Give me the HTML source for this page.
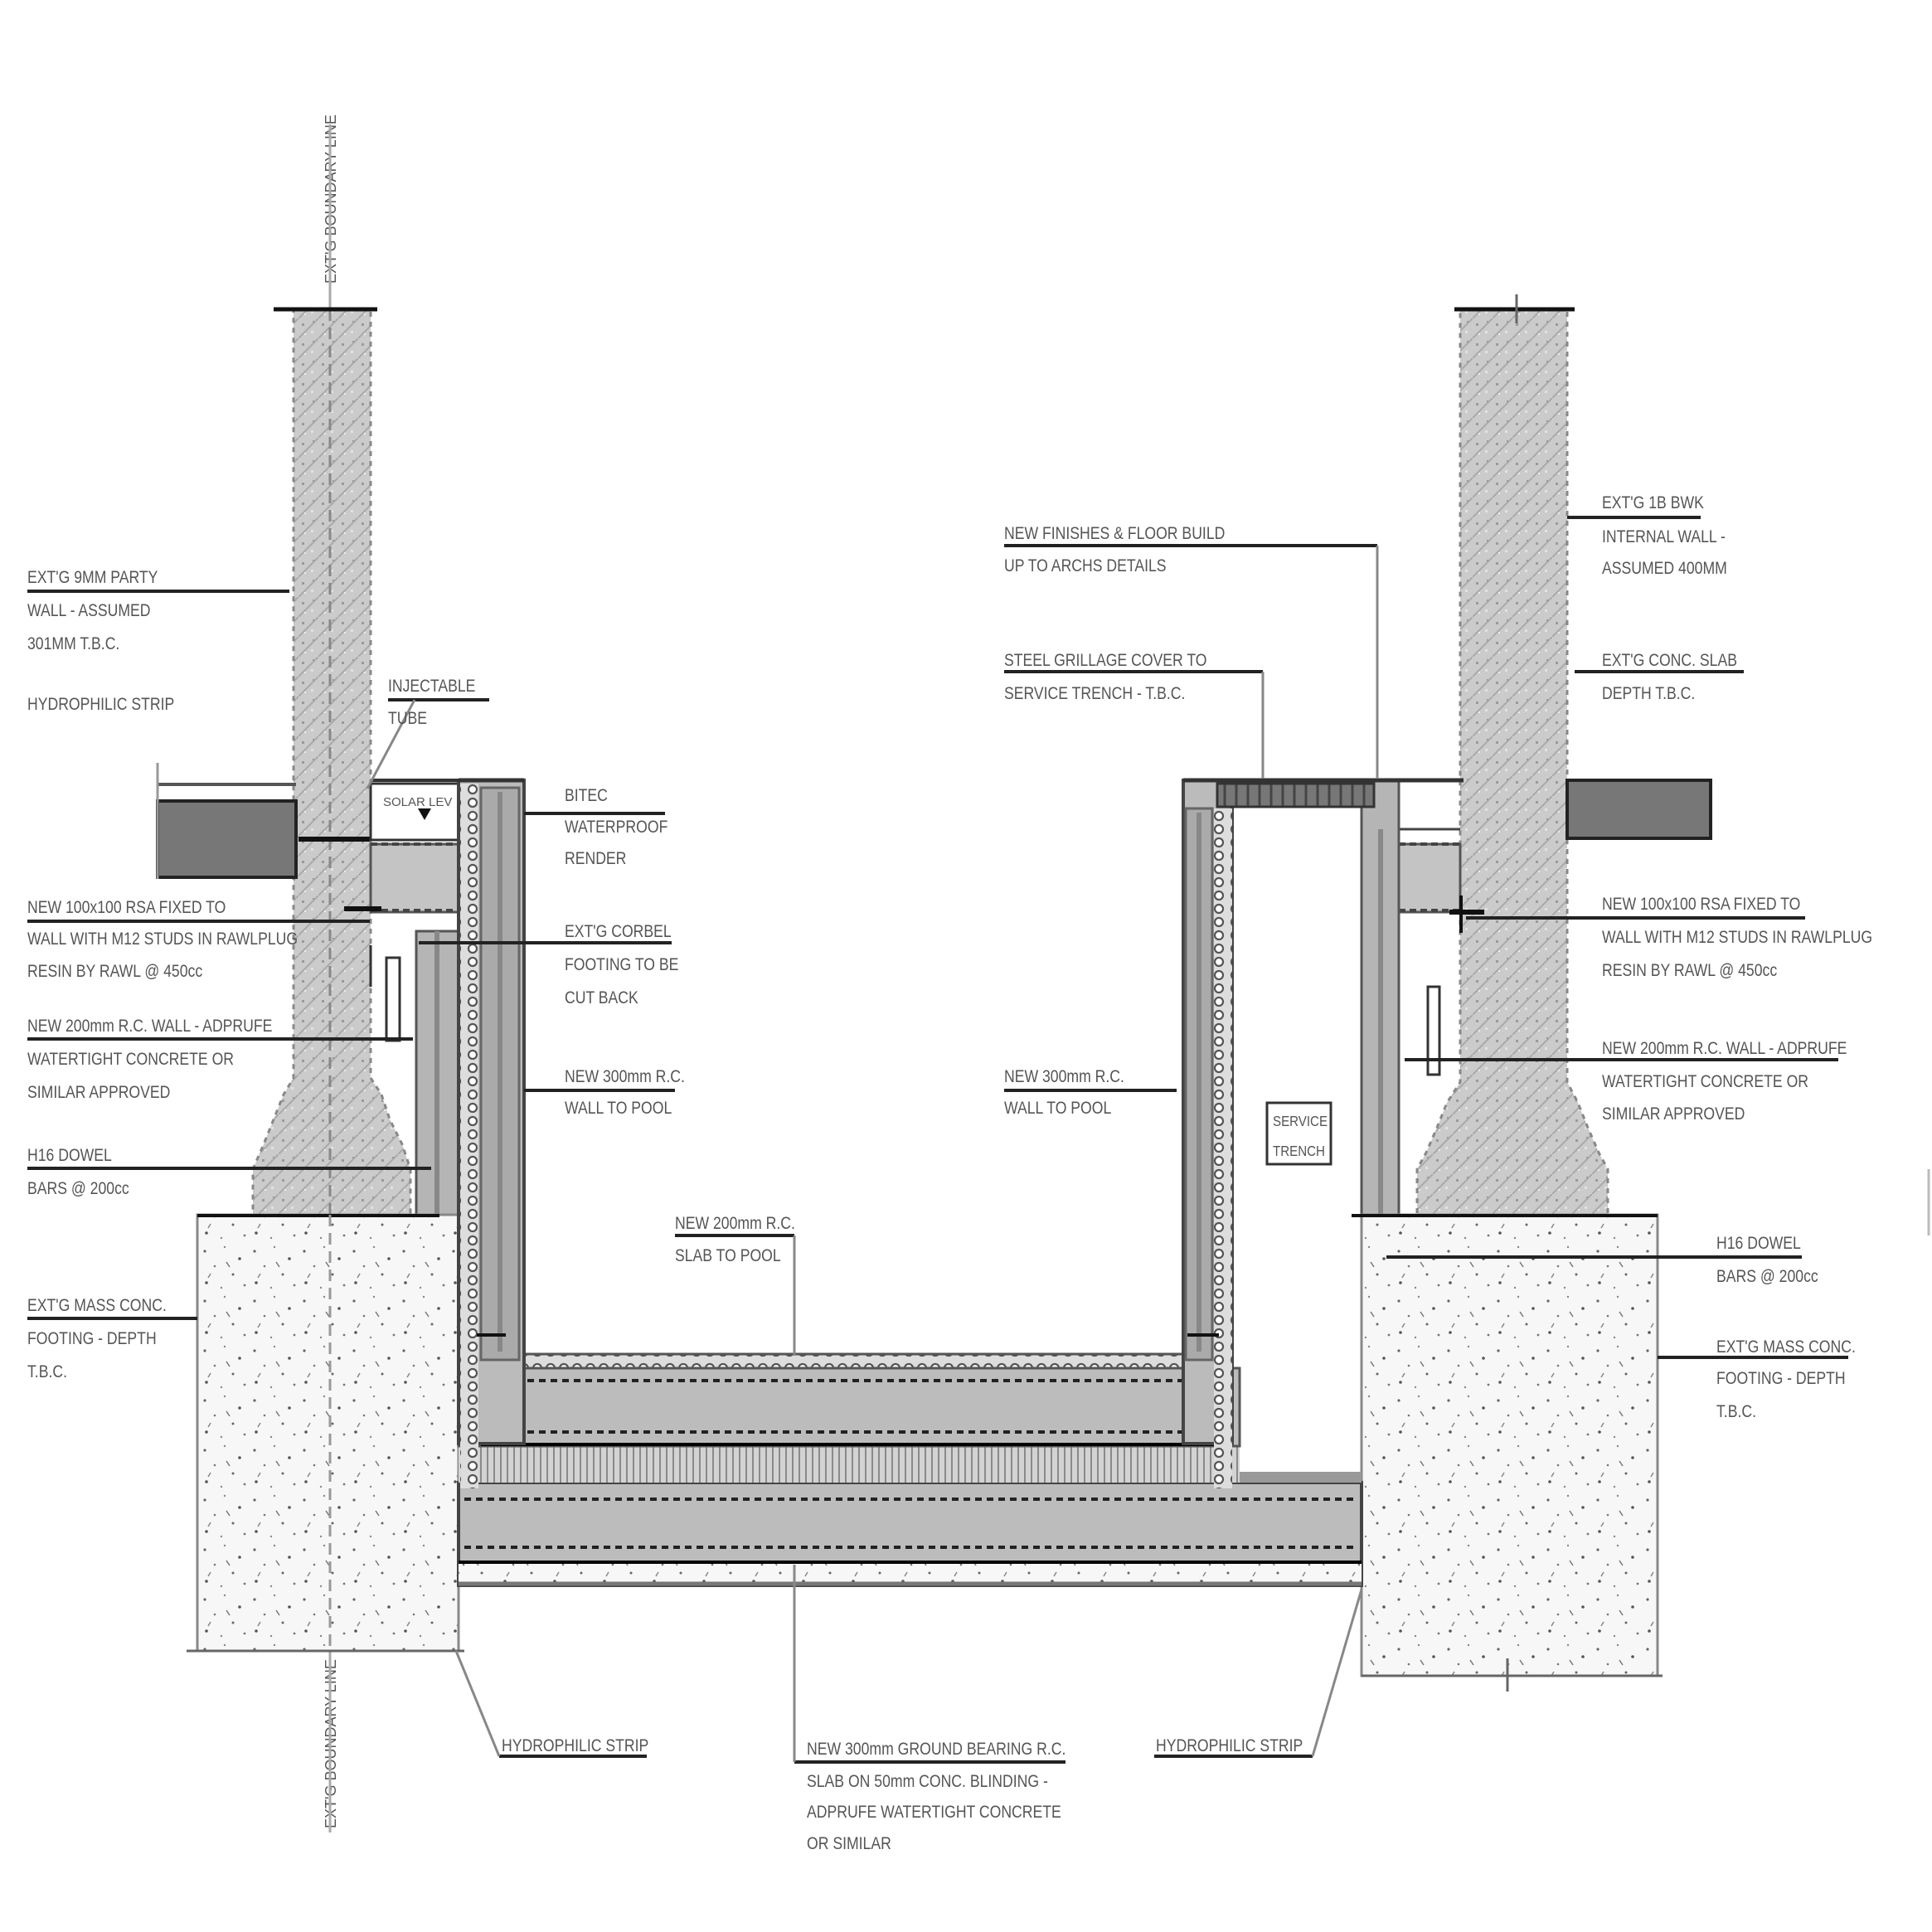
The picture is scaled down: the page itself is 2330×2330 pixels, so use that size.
<!DOCTYPE html>
<html><head><meta charset="utf-8"><style>
html,body{margin:0;padding:0;background:#fff}
svg{display:block}
text{font-family:"Liberation Sans Narrow","Liberation Sans",sans-serif;font-size:21px;fill:#555}
text.n{transform-box:fill-box;transform-origin:left center;transform:scaleX(0.84)}
</style></head><body>
<svg width="2330" height="2330" viewBox="0 0 2330 2330" xmlns="http://www.w3.org/2000/svg">
<defs>
<pattern id="brick" width="24" height="24" patternUnits="userSpaceOnUse">
<rect width="24" height="24" fill="#cbcbcb"/>
<path d="M0 24 L24 0" stroke="#a9a9a9" stroke-width="2"/>
<rect x="4" y="6" width="3" height="3" fill="#9a9a9a"/><rect x="15" y="15" width="3" height="3" fill="#e2e2e2"/><rect x="17" y="3" width="2" height="2" fill="#999"/><rect x="7" y="18" width="2" height="2" fill="#ececec"/>
</pattern>
<pattern id="conc" width="60" height="60" patternUnits="userSpaceOnUse">
<rect width="60" height="60" fill="#f7f7f7"/>
<circle cx="7" cy="9" r="1.6" fill="#666"/><circle cx="31" cy="4" r="1.2" fill="#888"/><circle cx="49" cy="18" r="1.8" fill="#555"/>
<circle cx="19" cy="27" r="1.3" fill="#777"/><circle cx="41" cy="37" r="1.5" fill="#666"/><circle cx="9" cy="47" r="1.8" fill="#555"/>
<circle cx="27" cy="53" r="1.2" fill="#888"/><circle cx="55" cy="50" r="1.4" fill="#777"/><path d="M33 22 l4 6" stroke="#777" stroke-width="1.5"/><path d="M14 36 l-3 5" stroke="#888" stroke-width="1.5"/>
</pattern>
<pattern id="circ" width="20" height="16" patternUnits="userSpaceOnUse">
<rect width="20" height="16" fill="#ddd"/>
<circle cx="10" cy="8" r="5" fill="#fff" stroke="#555" stroke-width="2.2"/>
</pattern>
<pattern id="circH" width="16" height="20" patternUnits="userSpaceOnUse">
<rect width="16" height="20" fill="#ddd"/>
<circle cx="8" cy="10" r="5" fill="#fff" stroke="#555" stroke-width="2.2"/>
</pattern>
<pattern id="vh" width="8" height="20" patternUnits="userSpaceOnUse">
<rect width="8" height="20" fill="#d3d3d3"/><path d="M4 0 V20" stroke="#8a8a8a" stroke-width="2"/>
</pattern>
<pattern id="grille" width="14" height="30" patternUnits="userSpaceOnUse">
<rect width="14" height="30" fill="#777"/><path d="M7 0 V30" stroke="#444" stroke-width="3"/>
</pattern>
</defs>

<!-- vertical boundary texts -->
<text transform="translate(405,342) rotate(-90)" style="font-size:18px">EXT'G BOUNDARY LINE</text>
<line x1="398" y1="150" x2="398" y2="373" stroke="#aaa" stroke-width="3"/>
<text transform="translate(405,2205) rotate(-90)" style="font-size:18px">EXT'G BOUNDARY LINE</text>
<line x1="398" y1="1990" x2="398" y2="2210" stroke="#aaa" stroke-width="3"/>

<!-- LEFT WALL -->
<path d="M354 373 H447 V1300 L460 1320 L470 1350 L485 1380 L495 1410 V1465 H305 V1410 L318 1380 L330 1350 L342 1320 L354 1300 Z" fill="url(#brick)" stroke="#888" stroke-width="3" stroke-dasharray="6 6"/>
<line x1="398" y1="373" x2="398" y2="1465" stroke="#888" stroke-width="3" stroke-dasharray="14 8"/>
<line x1="330" y1="373" x2="455" y2="373" stroke="#111" stroke-width="5"/>
<rect x="190" y="966" width="167" height="92" fill="#777" stroke="#222" stroke-width="4"/>
<line x1="190" y1="946" x2="357" y2="946" stroke="#555" stroke-width="4"/>
<line x1="190" y1="920" x2="190" y2="1060" stroke="#999" stroke-width="3"/>
<line x1="360" y1="1012" x2="446" y2="1012" stroke="#111" stroke-width="6"/>
<rect x="447" y="1018" width="106" height="82" fill="#c4c4c4" stroke="#555" stroke-width="3"/>
<line x1="447" y1="1018" x2="553" y2="1018" stroke="#444" stroke-width="4" stroke-dasharray="8 5"/>
<line x1="447" y1="1098" x2="553" y2="1098" stroke="#444" stroke-width="4" stroke-dasharray="8 5"/>
<line x1="447" y1="1140" x2="447" y2="1190" stroke="#333" stroke-width="3"/>
<line x1="415" y1="1096" x2="460" y2="1096" stroke="#111" stroke-width="6"/>
<rect x="447" y="945" width="106" height="68" fill="#fff" stroke="#333" stroke-width="3"/>
<path d="M512 989 l-8 -14 h16 z" fill="#111"/>
<text x="462" y="972" style="font-size:15px">SOLAR LEV</text>
<rect x="502" y="1123" width="51" height="342" fill="#b5b5b5" stroke="#555" stroke-width="3"/>
<line x1="527" y1="1123" x2="527" y2="1465" stroke="#888" stroke-width="6"/>
<rect x="466" y="1155" width="16" height="100" fill="#fff" stroke="#333" stroke-width="3"/>
<rect x="238" y="1465" width="315" height="526" fill="url(#conc)" stroke="#888" stroke-width="3"/>
<line x1="238" y1="1466" x2="530" y2="1466" stroke="#111" stroke-width="4"/>
<line x1="398" y1="1465" x2="398" y2="1991" stroke="#999" stroke-width="3" stroke-dasharray="14 8"/>
<line x1="225" y1="1991" x2="560" y2="1991" stroke="#666" stroke-width="3"/>

<!-- RIGHT WALL -->
<path d="M1761 373 H1890 V1305 L1903 1330 L1915 1360 L1928 1390 L1939 1410 V1465 H1709 V1410 L1720 1390 L1733 1360 L1745 1330 L1761 1305 Z" fill="url(#brick)" stroke="#888" stroke-width="3" stroke-dasharray="6 6"/>
<line x1="1754" y1="373" x2="1899" y2="373" stroke="#111" stroke-width="5"/>
<line x1="1829" y1="355" x2="1829" y2="390" stroke="#666" stroke-width="3"/>
<rect x="1890" y="941" width="173" height="70" fill="#777" stroke="#222" stroke-width="4"/>
<rect x="1687" y="1018" width="74" height="82" fill="#c4c4c4" stroke="#555" stroke-width="3"/>
<line x1="1687" y1="1018" x2="1761" y2="1018" stroke="#444" stroke-width="4" stroke-dasharray="8 5"/>
<line x1="1687" y1="1098" x2="1761" y2="1098" stroke="#444" stroke-width="4" stroke-dasharray="8 5"/>
<line x1="1687" y1="1000" x2="1761" y2="1000" stroke="#444" stroke-width="3"/>
<line x1="1748" y1="1100" x2="1790" y2="1100" stroke="#111" stroke-width="6"/>
<line x1="1762" y1="1080" x2="1762" y2="1125" stroke="#111" stroke-width="4"/>
<rect x="1722" y="1190" width="14" height="106" fill="#fff" stroke="#333" stroke-width="3"/>
<rect x="1642" y="941" width="45" height="524" fill="#b5b5b5" stroke="#555" stroke-width="3"/>
<line x1="1665" y1="1000" x2="1665" y2="1465" stroke="#888" stroke-width="6"/>
<rect x="1642" y="1465" width="357" height="556" fill="url(#conc)" stroke="#888" stroke-width="3"/>
<line x1="1630" y1="1466" x2="1999" y2="1466" stroke="#111" stroke-width="4"/>
<line x1="1642" y1="2021" x2="2005" y2="2021" stroke="#666" stroke-width="3"/>
<line x1="1818" y1="2000" x2="1818" y2="2040" stroke="#666" stroke-width="3"/>

<!-- POOL -->
<rect x="553" y="1788" width="1089" height="124" fill="#bcbcbc" stroke="#444" stroke-width="4"/>
<line x1="560" y1="1808" x2="1636" y2="1808" stroke="#222" stroke-width="4" stroke-dasharray="8 6"/>
<line x1="560" y1="1866" x2="1636" y2="1866" stroke="#222" stroke-width="4" stroke-dasharray="8 6"/>
<line x1="553" y1="1884" x2="1642" y2="1884" stroke="#000" stroke-width="4"/>
<rect x="553" y="1886" width="1089" height="24" fill="url(#conc)"/>
<line x1="553" y1="1910" x2="1642" y2="1910" stroke="#777" stroke-width="5"/>
<rect x="1495" y="1775" width="147" height="13" fill="#999"/>
<rect x="553" y="1744" width="942" height="44" fill="url(#vh)"/>
<rect x="553" y="1650" width="942" height="94" fill="#bcbcbc" stroke="#555" stroke-width="3"/>
<line x1="580" y1="1665" x2="1470" y2="1665" stroke="#222" stroke-width="4" stroke-dasharray="8 6"/>
<line x1="580" y1="1727" x2="1470" y2="1727" stroke="#222" stroke-width="4" stroke-dasharray="8 6"/>
<line x1="580" y1="1742" x2="1470" y2="1742" stroke="#000" stroke-width="4"/>
<rect x="632" y="1633" width="795" height="17" fill="url(#circH)" stroke="#555" stroke-width="3"/>
<rect x="553" y="941" width="79" height="800" fill="#bbb" stroke="#444" stroke-width="4"/>
<rect x="555" y="945" width="22" height="850" fill="url(#circ)"/>
<rect x="580" y="950" width="46" height="690" fill="#aaa" stroke="#666" stroke-width="3"/>
<line x1="603" y1="955" x2="603" y2="1630" stroke="#888" stroke-width="6"/>
<line x1="575" y1="1610" x2="610" y2="1610" stroke="#111" stroke-width="4"/>
<rect x="1427" y="941" width="59" height="800" fill="#bbb" stroke="#444" stroke-width="4"/>
<rect x="1464" y="975" width="22" height="820" fill="url(#circ)"/>
<rect x="1430" y="975" width="32" height="665" fill="#aaa" stroke="#666" stroke-width="3"/>
<line x1="1446" y1="980" x2="1446" y2="1630" stroke="#888" stroke-width="6"/>
<line x1="1432" y1="1610" x2="1470" y2="1610" stroke="#111" stroke-width="4"/>
<line x1="1427" y1="941" x2="1765" y2="941" stroke="#333" stroke-width="5"/>
<rect x="1468" y="945" width="189" height="28" fill="url(#grille)" stroke="#333" stroke-width="3"/>
<line x1="553" y1="941" x2="632" y2="941" stroke="#333" stroke-width="5"/>
<line x1="447" y1="941" x2="553" y2="941" stroke="#333" stroke-width="4"/>
<rect x="1528" y="1330" width="77" height="74" fill="#fff" stroke="#333" stroke-width="3"/>
<text class="n" x="1535" y="1358" style="font-size:18px">SERVICE</text>
<text class="n" x="1535" y="1394" style="font-size:18px">TRENCH</text>

<!-- LEADERS -->
<g stroke="#222" stroke-width="4" fill="none">
<path d="M33 713 H349"/>
<path d="M468 844 H590"/>
<path d="M632 981 H802"/>
<path d="M33 1111 H446"/>
<path d="M505 1137 H810"/>
<path d="M33 1253 H498"/>
<path d="M632 1315 H814"/>
<path d="M33 1409 H520"/>
<path d="M33 1590 H238"/>
<path d="M814 1490 H958"/>
<path d="M602 2118 H780"/>
<path d="M958 2125 H1285"/>
<path d="M1392 2118 H1583"/>
<path d="M1211 658 H1661"/>
<path d="M1211 810 H1523"/>
<path d="M1211 1315 H1419"/>
<path d="M1890 624 H2051"/>
<path d="M1899 810 H2103"/>
<path d="M1768 1107 H2177"/>
<path d="M1694 1278 H2217"/>
<path d="M1672 1516 H2173"/>
<path d="M1999 1637 H2229"/>
</g>
<g stroke="#888" stroke-width="3" fill="none">
<path d="M500 844 L443 951"/>
<path d="M958 1490 V1635"/>
<path d="M550 1991 L602 2118"/>
<path d="M958 1887 V2125"/>
<path d="M1642 1917 L1583 2118"/>
<path d="M1661 658 V939"/>
<path d="M1523 810 V939"/>
</g>

<!-- LABELS -->
<text class="n" x="33" y="703">EXT'G 9MM PARTY</text>
<text class="n" x="33" y="743">WALL - ASSUMED</text>
<text class="n" x="33" y="783">301MM T.B.C.</text>
<text class="n" x="33" y="856">HYDROPHILIC STRIP</text>
<text class="n" x="468" y="834">INJECTABLE</text>
<text class="n" x="468" y="873">TUBE</text>
<text class="n" x="681" y="966">BITEC</text>
<text class="n" x="681" y="1004">WATERPROOF</text>
<text class="n" x="681" y="1042">RENDER</text>
<text class="n" x="33" y="1101">NEW 100x100 RSA FIXED TO</text>
<text class="n" x="33" y="1139">WALL WITH M12 STUDS IN RAWLPLUG</text>
<text class="n" x="33" y="1178">RESIN BY RAWL @ 450cc</text>
<text class="n" x="681" y="1130">EXT'G CORBEL</text>
<text class="n" x="681" y="1170">FOOTING TO BE</text>
<text class="n" x="681" y="1210">CUT BACK</text>
<text class="n" x="33" y="1244">NEW 200mm R.C. WALL - ADPRUFE</text>
<text class="n" x="33" y="1284">WATERTIGHT CONCRETE OR</text>
<text class="n" x="33" y="1324">SIMILAR APPROVED</text>
<text class="n" x="681" y="1305">NEW 300mm R.C.</text>
<text class="n" x="681" y="1343">WALL TO POOL</text>
<text class="n" x="33" y="1400">H16 DOWEL</text>
<text class="n" x="33" y="1440">BARS @ 200cc</text>
<text class="n" x="33" y="1581">EXT'G MASS CONC.</text>
<text class="n" x="33" y="1621">FOOTING - DEPTH</text>
<text class="n" x="33" y="1661">T.B.C.</text>
<text class="n" x="814" y="1482">NEW 200mm R.C.</text>
<text class="n" x="814" y="1521">SLAB TO POOL</text>
<text class="n" x="605" y="2112">HYDROPHILIC STRIP</text>
<text class="n" x="973" y="2116">NEW 300mm GROUND BEARING R.C.</text>
<text class="n" x="973" y="2155">SLAB ON 50mm CONC. BLINDING -</text>
<text class="n" x="973" y="2192">ADPRUFE WATERTIGHT CONCRETE</text>
<text class="n" x="973" y="2230">OR SIMILAR</text>
<text class="n" x="1394" y="2112">HYDROPHILIC STRIP</text>
<text class="n" x="1211" y="650">NEW FINISHES &amp; FLOOR BUILD</text>
<text class="n" x="1211" y="689">UP TO ARCHS DETAILS</text>
<text class="n" x="1211" y="803">STEEL GRILLAGE COVER TO</text>
<text class="n" x="1211" y="843">SERVICE TRENCH - T.B.C.</text>
<text class="n" x="1211" y="1305">NEW 300mm R.C.</text>
<text class="n" x="1211" y="1343">WALL TO POOL</text>
<text class="n" x="1932" y="613">EXT'G 1B BWK</text>
<text class="n" x="1932" y="654">INTERNAL WALL -</text>
<text class="n" x="1932" y="692">ASSUMED 400MM</text>
<text class="n" x="1932" y="803">EXT'G CONC. SLAB</text>
<text class="n" x="1932" y="843">DEPTH T.B.C.</text>
<text class="n" x="1932" y="1097">NEW 100x100 RSA FIXED TO</text>
<text class="n" x="1932" y="1137">WALL WITH M12 STUDS IN RAWLPLUG</text>
<text class="n" x="1932" y="1177">RESIN BY RAWL @ 450cc</text>
<text class="n" x="1932" y="1271">NEW 200mm R.C. WALL - ADPRUFE</text>
<text class="n" x="1932" y="1311">WATERTIGHT CONCRETE OR</text>
<text class="n" x="1932" y="1350">SIMILAR APPROVED</text>
<text class="n" x="2070" y="1506">H16 DOWEL</text>
<text class="n" x="2070" y="1546">BARS @ 200cc</text>
<text class="n" x="2070" y="1631">EXT'G MASS CONC.</text>
<text class="n" x="2070" y="1669">FOOTING - DEPTH</text>
<text class="n" x="2070" y="1709">T.B.C.</text>
<line x1="2326" y1="1410" x2="2326" y2="1490" stroke="#bbb" stroke-width="3"/>
</svg>
</body></html>
